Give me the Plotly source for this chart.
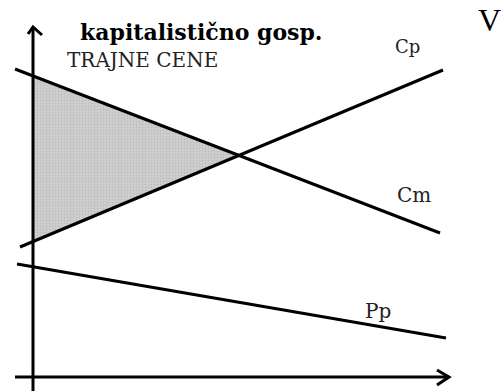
import plotly.graph_objects as go

# Schematic chart data (origin at the crossing of the axes)
cm_x = [-18, 407]
cm_y = [308, 144]
cp_x = [-13, 410]
cp_y = [130, 307]
pp_x = [-16, 413]
pp_y = [113, 39]
area_x = [0, 0, 207, 0]
area_y = [300, 135, 222, 300]
yaxis_x = [0, 0]
yaxis_y = [-14, 350]
xaxis_x = [-18, 416]
xaxis_y = [0, 0]
yarrow_x = [-5, 0, 9]
yarrow_y = [343, 350, 342]
xarrow_x = [404, 416, 404]
xarrow_y = [7, 0, -8]

labels = ["kapitalistično gosp.", "TRAJNE CENE", "Cp", "Cm", "Pp", "V"]
label_x = [168, 109, 374, 381, 345, 456]
label_y = [345, 317, 331, 182, 66, 357]

fig = go.Figure()
fig.add_trace(go.Scatter(x=area_x, y=area_y, fill="toself", mode="none",
                         fillcolor="#c4c4c4",
                         fillpattern=dict(shape=".", fgcolor="#a8a8a8", bgcolor="#d0d0d0", size=3, solidity=0.3)))
line = dict(color="black", width=3)
for xs, ys in [(cm_x, cm_y), (cp_x, cp_y), (pp_x, pp_y), (yaxis_x, yaxis_y),
               (xaxis_x, xaxis_y), (yarrow_x, yarrow_y), (xarrow_x, xarrow_y)]:
    fig.add_trace(go.Scatter(x=xs, y=ys, mode="lines", line=line))

fonts = [
    dict(family="DejaVu Serif", size=22, color="black", weight="bold"),
    dict(family="DejaVu Serif", size=20, color="#222"),
    dict(family="DejaVu Serif", size=18, color="#222"),
    dict(family="DejaVu Serif", size=20, color="#222"),
    dict(family="DejaVu Serif", size=20, color="#222"),
    dict(family="Liberation Serif", size=32, color="black"),
]
for t, x, y, f in zip(labels, label_x, label_y, fonts):
    fig.add_annotation(x=x, y=y, text=t, showarrow=False, font=f,
                       xanchor="center", yanchor="middle")

fig.update_layout(width=502, height=391, margin=dict(l=0, r=0, t=0, b=0),
                  paper_bgcolor="white", plot_bgcolor="white", showlegend=False,
                  xaxis=dict(range=[-33, 469], visible=False, fixedrange=True),
                  yaxis=dict(range=[-14, 377], visible=False, fixedrange=True))
fig.write_html("out.html", config={"displayModeBar": False},
               post_script="document.body.style.margin='0';")
